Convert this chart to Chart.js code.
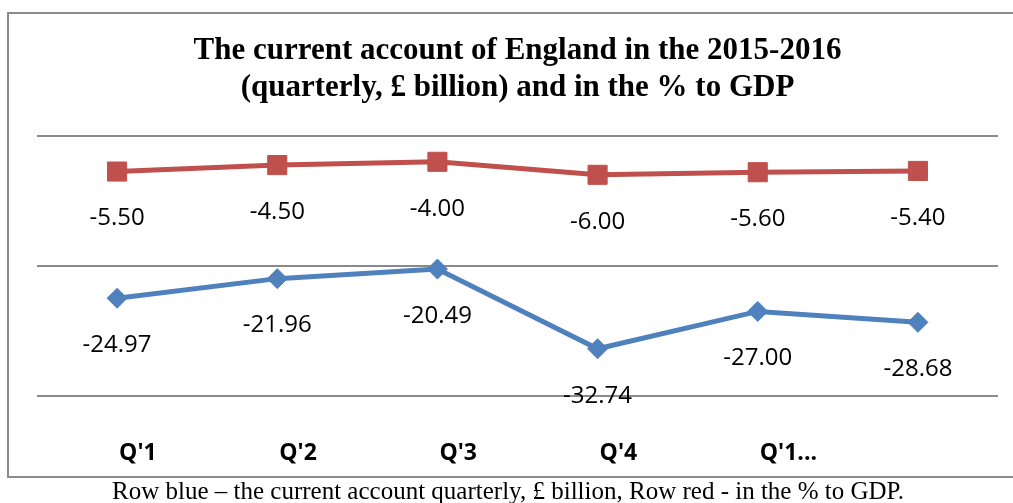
<!DOCTYPE html>
<html>
<head>
<meta charset="utf-8">
<script src="https://cdn.jsdelivr.net/npm/chart.js@4"></script>
<style>
  body { margin: 0; background: #fff; width: 1013px; height: 503px; overflow: hidden; position: relative; }
  #frame { position: absolute; left: 7px; top: 12px; width: 1020px; height: 466px; border: 2px solid #8c8c8c; box-sizing: border-box; }
  #chart { position: absolute; left: 0; top: 0; }
  #caption { position: absolute; left: 0; width: 1016px; top: 476px; text-align: center;
             font-family: "Liberation Serif", "Times New Roman", serif; font-size: 25px; color: #000; line-height: 30px; }
</style>
</head>
<body>
<div id="frame"></div>
<canvas id="chart" width="1013" height="503"></canvas>
<div id="caption">Row blue – the current account quarterly, £ billion, Row red - in the % to GDP.</div>
<script>
// categories and series
let quarters = ["Q'1", "Q'2", "Q'3", "Q'4", "Q'1...", ""]
let accountBillion = [-24.97, -21.96, -20.49, -32.74, -27.00, -28.68]   // blue row
let accountPctGdp = [-5.50, -4.50, -4.00, -6.00, -5.60, -5.40]           // red row
let yTicks = [-40, -20, 0]

// value labels under every point
let valueLabels = {
    id: 'valueLabels',
    afterDatasetsDraw(chart) {
        let ctx = chart.ctx
        ctx.save()
        ctx.font = '24px "Open Sans", "Noto Sans", sans-serif'
        ctx.fillStyle = '#000'
        ctx.textAlign = 'center'
        ctx.textBaseline = 'middle'
        chart.data.datasets.forEach(function(ds, i) {
            chart.getDatasetMeta(i).data.forEach(function(pt, j) {
                ctx.fillText(ds.data[j].toFixed(2), pt.x, pt.y + 47)
            })
        })
        ctx.restore()
    }
}

let ctx = document.getElementById('chart').getContext('2d')
let accountChart = new Chart(ctx, {
    type: 'line',
    data: {
        labels: quarters,
        datasets: [{
            label: 'Row blue',
            data: accountBillion,
            borderColor: '#4F81BD',
            backgroundColor: '#4F81BD',
            borderWidth: 5,
            pointStyle: 'rectRot',
            pointRadius: 10,
            pointBorderWidth: 1,
            tension: 0
        }, {
            label: 'Row red',
            data: accountPctGdp,
            borderColor: '#C0504D',
            backgroundColor: '#C0504D',
            borderWidth: 5,
            pointStyle: 'rect',
            pointRadius: 13.5,
            pointBorderWidth: 1,
            tension: 0
        }]
    },
    options: {
        responsive: false,
        devicePixelRatio: 1,
        animation: false,
        layout: { padding: { left: 37, right: 15, top: 0, bottom: 37 } },
        plugins: {
            legend: { display: false },
            tooltip: { enabled: false },
            title: {
                display: true,
                text: ['The current account of England in the 2015-2016', '(quarterly, £ billion) and in the % to GDP'],
                color: '#000',
                font: { family: '"Liberation Serif", "Times New Roman", serif', size: 31, weight: 'bold', lineHeight: 1.19 },
                padding: { top: 33, bottom: 29 }
            }
        },
        scales: {
            x: {
                offset: true,
                grid: { display: false },
                border: { display: false },
                afterFit: function(axis) { axis.height = 70 },
                ticks: {
                    color: '#000',
                    align: 'start',
                    labelOffset: 2,
                    padding: 36,
                    font: { family: '"Open Sans", "Noto Sans", sans-serif', size: 23, weight: 'bold' }
                }
            },
            y: {
                min: yTicks[0],
                max: yTicks[yTicks.length - 1],
                afterBuildTicks: function(axis) { axis.ticks = yTicks.map(v => ({ value: v })) },
                ticks: { display: false },
                grid: { color: '#8a8a8a', lineWidth: 2, drawTicks: false },
                border: { display: false }
            }
        }
    },
    plugins: [valueLabels]
})
</script>
</body>
</html>
